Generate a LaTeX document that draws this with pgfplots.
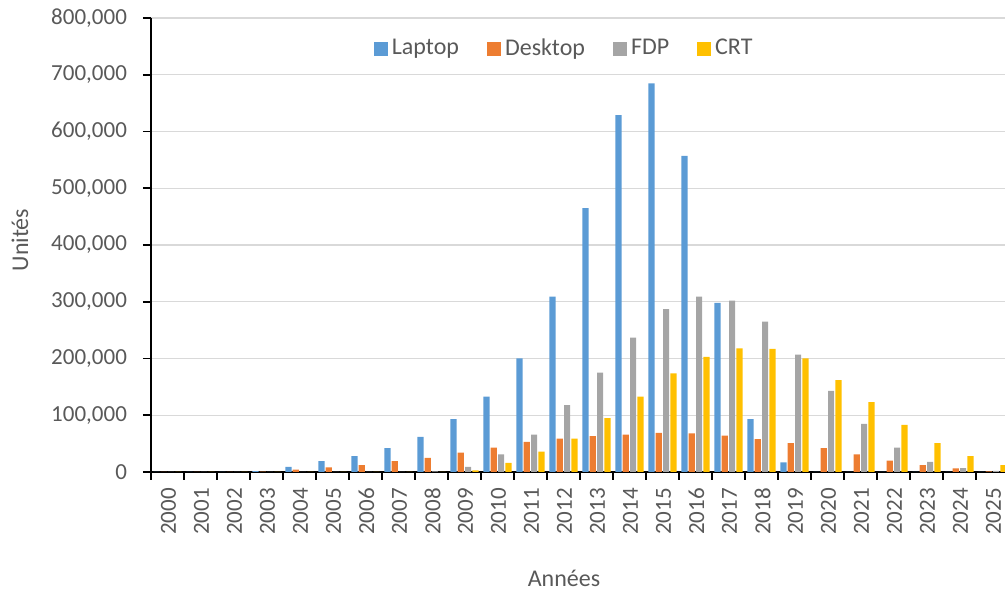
\documentclass[border=0pt]{standalone}
\usepackage{pgfplots}
\pgfplotsset{compat=1.18}
\usepackage{fontspec}
\setmainfont{Carlito}
\definecolor{cLap}{HTML}{5B9BD5}
\definecolor{cDesk}{HTML}{ED7D31}
\definecolor{cFDP}{HTML}{A5A5A5}
\definecolor{cCRT}{HTML}{FFC000}
\definecolor{txt}{HTML}{595959}
\definecolor{gridc}{HTML}{D9D9D9}
\begin{document}
\fontsize{11.5}{13.8}\selectfont
\begin{tikzpicture}
\begin{axis}[
  at={(0,0)}, anchor=south west,
  scale only axis, width=427pt, height=227pt,
  xmin=-0.5, xmax=25.38, ymin=0, ymax=800000,
  axis lines=left, axis line style={-, black},
  x axis line style={line width=1.4pt},
  y axis line style={line width=1pt},
  ybar, bar width=3.1pt, ybar=0.55pt,
  tick align=outside,
  xtick={0,...,25},
  xticklabels={2000,2001,2002,2003,2004,2005,2006,2007,2008,2009,2010,2011,2012,2013,2014,2015,2016,2017,2018,2019,2020,2021,2022,2023,2024,2025},
  xtick style={draw=none},
  extra x ticks={-0.5,0.5,...,24.5},
  extra x tick labels={},
  extra x tick style={xtick style={draw=black, line width=1pt}, major tick length=4pt},
  xticklabel style={rotate=90, anchor=east, yshift=-0.5pt, text=txt, font=\fontsize{11.5}{13.8}\selectfont},
  ytick={0,100000,...,800000},
  ytick style={draw=black, line width=0.8pt},
  major tick length=4pt,
  scaled y ticks=false,
  yticklabel style={xshift=-4pt, text=txt, /pgf/number format/fixed, /pgf/number format/1000 sep={,}, font=\fontsize{11.5}{13.8}\selectfont},
  /pgf/number format/assume math mode=true,
  ymajorgrids, grid style={gridc, line width=0.7pt},
  xlabel={Années}, ylabel={Unités},
  xlabel style={at={(axis description cs:0.4836,0)}, anchor=center, yshift=-53pt, text=txt, font=\fontsize{12}{14}\selectfont},
  ylabel style={at={(axis description cs:-0.1534,0.511)}, anchor=center, text=txt, font=\fontsize{12}{14}\selectfont},
  legend style={at={(0.485,0.932)}, anchor=center, draw=none, fill=none, legend columns=4,
    text=txt, font=\fontsize{12}{14}\selectfont,
    /tikz/every even column/.append style={column sep=12pt}},
  legend cell align=left,
]
\addplot[fill=cLap, draw=none, legend image code/.code={\fill[cLap] (0pt,-3.5pt) rectangle (7pt,3.5pt);}] coordinates {
(0,0) (1,0) (2,0) (3,1500) (4,9000) (5,19000) (6,28000) (7,42000) (8,62000) (9,93000)
(10,133000) (11,200000) (12,309000) (13,465000) (14,629000) (15,685000) (16,557000) (17,298000) (18,93000) (19,17000)
(20,0) (21,0) (22,0) (23,0) (24,0) (25,0)};
\addplot[fill=cDesk, draw=none, legend image code/.code={\fill[cDesk] (0pt,-3.5pt) rectangle (7pt,3.5pt);}] coordinates {
(0,0) (1,0) (2,0) (3,500) (4,4000) (5,8000) (6,12000) (7,19000) (8,25000) (9,34000)
(10,43000) (11,53000) (12,59000) (13,63000) (14,66000) (15,69000) (16,68000) (17,64000) (18,58000) (19,51000)
(20,42000) (21,31000) (22,20000) (23,12000) (24,6500) (25,1000)};
\addplot[fill=cFDP, draw=none, legend image code/.code={\fill[cFDP] (0pt,-3.5pt) rectangle (7pt,3.5pt);}] coordinates {
(0,0) (1,0) (2,0) (3,0) (4,0) (5,0) (6,0) (7,0) (8,1000) (9,9000)
(10,31000) (11,66000) (12,118000) (13,175000) (14,237000) (15,287000) (16,309000) (17,302000) (18,265000) (19,207000)
(20,143000) (21,85000) (22,43000) (23,18000) (24,7000) (25,2000)};
\addplot[fill=cCRT, draw=none, legend image code/.code={\fill[cCRT] (0pt,-3.5pt) rectangle (7pt,3.5pt);}] coordinates {
(0,0) (1,0) (2,0) (3,0) (4,0) (5,0) (6,0) (7,0) (8,0) (9,3000)
(10,16000) (11,36000) (12,59000) (13,95000) (14,133000) (15,174000) (16,203000) (17,218000) (18,217000) (19,200000)
(20,162000) (21,123000) (22,83000) (23,51000) (24,28000) (25,12000)};
\legend{Laptop, Desktop, FDP, CRT}
\end{axis}
\pgfresetboundingbox
\path[use as bounding box] (-75.5pt,-60pt) rectangle (427pt,236pt);
\end{tikzpicture}
\end{document}
